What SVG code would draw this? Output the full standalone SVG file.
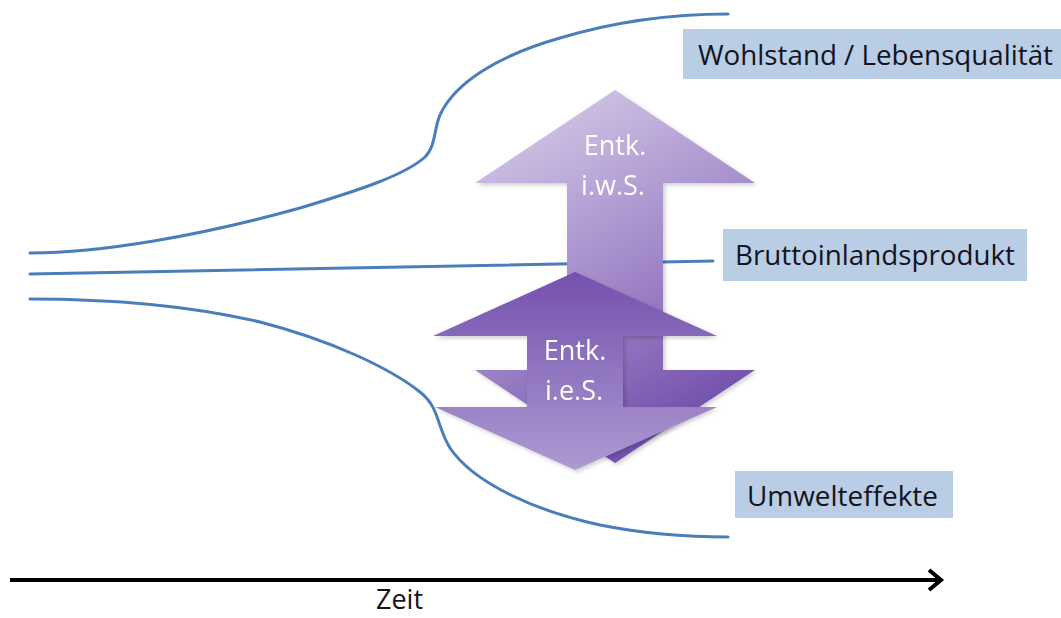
<svg xmlns="http://www.w3.org/2000/svg" width="1061" height="618" viewBox="0 0 1061 618">
  <style>
    .curve { fill: none; stroke: #4a7ebb; stroke-width: 3; stroke-linecap: round; }
    .box { fill: #b9cde5; }
    .lbl { font-family: "Open Sans", "Liberation Sans", sans-serif; font-size: 27px; fill: #141420; }
    .atxt { font-family: "Open Sans", "Liberation Sans", sans-serif; font-size: 27px; fill: #ffffff; text-anchor: middle; }
    .axis { fill: none; stroke: #000; stroke-width: 4; }
  </style>
  <defs>
    <linearGradient id="gBig" gradientUnits="userSpaceOnUse" x1="540" y1="100" x2="720" y2="420">
      <stop offset="0" stop-color="#d2c6e6"/>
      <stop offset="0.5" stop-color="#a48bca"/>
      <stop offset="1" stop-color="#6e4cab"/>
    </linearGradient>
    <linearGradient id="gSmall" gradientUnits="userSpaceOnUse" x1="0" y1="272" x2="0" y2="470">
      <stop offset="0" stop-color="#7450ae"/>
      <stop offset="1" stop-color="#ad9ad1"/>
    </linearGradient>
    <filter id="shadow" x="-10%" y="-10%" width="130%" height="130%">
      <feDropShadow dx="2" dy="2" stdDeviation="2" flood-color="#000" flood-opacity="0.2"/>
    </filter>
  </defs>
  <rect width="1061" height="618" fill="#ffffff"/>

  <g id="connectors">
    <path class="curve" d="M30,253 C100,253 200,236 300,208 C360,190 405,175 425,157 C436,146 434,128 440,115 C455,82 500,55 560,38 C620,20 680,14 728,14"/>
    <path class="curve" d="M30,274 C200,271 500,265 713,261"/>
    <path class="curve" d="M30,299 C120,299 200,308 260,322 C330,340 390,368 420,392 C440,408 436,425 450,448 C475,485 540,512 600,525 C650,535 690,537 728,537"/>
  </g>

  <g id="arrow-iws" filter="url(#shadow)">
    <polygon fill="url(#gBig)" points="615,90 755,183 663,183 663,370 755,370 615,463 475,370 567,370 567,183 475,183"/>
    <text class="atxt" x="615" y="155">Entk.</text>
    <text class="atxt" x="613" y="195">i.w.S.</text>
  </g>

  <g id="arrow-ies" filter="url(#shadow)">
    <polygon fill="url(#gSmall)" points="575,272 717,336 623,336 623,407 717,407 575,470 435,407 527,407 527,336 433,336"/>
    <text class="atxt" x="575" y="360">Entk.</text>
    <text class="atxt" x="574" y="400">i.e.S.</text>
  </g>

  <g id="label-wohlstand">
    <rect class="box" x="683" y="29" width="378" height="50"/>
    <text class="lbl" x="698" y="65" textLength="355" lengthAdjust="spacingAndGlyphs">Wohlstand / Lebensqualität</text>
  </g>
  <g id="label-bip">
    <rect class="box" x="723" y="229" width="304" height="52"/>
    <text class="lbl" x="735" y="265" textLength="280" lengthAdjust="spacingAndGlyphs">Bruttoinlandsprodukt</text>
  </g>
  <g id="label-umwelt">
    <rect class="box" x="735" y="471" width="218" height="47"/>
    <text class="lbl" x="747" y="506" textLength="191" lengthAdjust="spacingAndGlyphs">Umwelteffekte</text>
  </g>

  <g id="time-axis">
    <line class="axis" x1="10" y1="580" x2="940" y2="580"/>
    <polyline class="axis" points="929,570 941,580 929,590" stroke-linejoin="miter"/>
    <text class="lbl" x="376" y="609">Zeit</text>
  </g>
</svg>
